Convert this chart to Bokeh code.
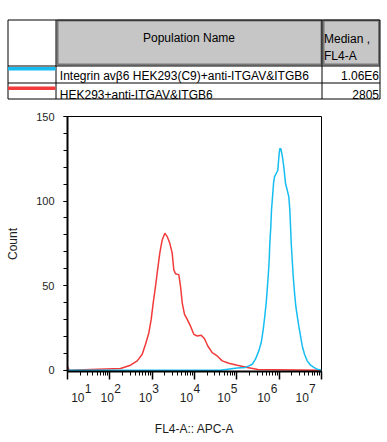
from bokeh.plotting import figure
from bokeh.layouts import column
from bokeh.models import Range1d, FixedTicker, CustomJSTickFormatter
from bokeh.embed import file_html
from bokeh.resources import INLINE
from bokeh.core.properties import value

FONT = "Liberation Sans"
CYAN = "#16BDF0"
RED = "#F23A3A"
TXT = "#1e1e1e"
W = 386

# ---------------- data ----------------
header_name = "Population Name"
header_stat = ["Median ,", "FL4-A"]
populations = ["Integrin avβ6 HEK293(C9)+anti-ITGAV&ITGB6", "HEK293+anti-ITGAV&ITGB6"]
medians = ["1.06E6", "2805"]
pop_colors = [CYAN, RED]

red_fl4 = [10, 11, 179, 308, 444, 582, 697, 834, 948, 1059, 1199, 1315, 1514,
           1726, 1991, 2265, 2612, 2972, 3243, 3556, 4256, 4677, 5129, 5808,
           6730, 8054, 9638, 11590, 14390, 17220, 20610, 26180, 34360, 45190,
           64710, 102100, 175800, 316000, 1e7]
red_count = [2, 0, 1, 2.9, 5.5, 9.4, 15.3, 22, 30, 39.8, 49.6, 57.5, 69.2,
             77, 81, 79, 75, 69.2, 59.4, 57, 56.5, 49.6, 39.8, 33,
             30, 26, 21.2, 20.2, 20.6, 18.6, 14.3, 10.4, 8.4, 5.5,
             4.1, 2.9, 1.6, 0.4, 0]

cyan_fl4 = [10, 41100, 102000, 160000, 192000, 231000, 276000, 330000, 377000,
            420000, 458000, 494000, 522000, 551000, 582000, 601000, 635000,
            659000, 697000, 736000, 776000, 851000, 929000, 982000, 1035000,
            1094000, 1180000, 1288000, 1413000, 1549000, 1690000, 1786000,
            1928000, 2032000, 2148000, 2307000, 2472000, 2673000, 2911000,
            3192000, 3508000, 3972000, 4603000, 5508000, 6592000, 7925000, 1e7]
cyan_count = [0, 0, 1.2, 1.6, 2.5, 3.5, 6.5, 11.4, 16.3,
              24, 32, 39.8, 47.6, 55.5, 65.3, 75, 84.9,
              94.7, 102.5, 110.4, 114.3, 116.3, 118.2, 126, 131,
              131, 127, 120.2, 110.4, 106.5, 102.5, 94.7,
              75, 65.3, 55.5, 45.7, 37.8, 32, 26,
              20.2, 14.3, 9.4, 5.5, 2.9, 1.6, 0.5, 0]

x_decades = [1, 2, 3, 4, 5, 6, 7]
y_major = [0, 50, 100, 150]
y_minor = list(range(0, 151, 10))

# ---------------- legend table ----------------
t = figure(width=W, height=108, x_range=Range1d(0, W), y_range=Range1d(108, 0),
           output_backend="svg", toolbar_location=None,
           x_axis_location=None, y_axis_location=None, min_border=0,
           outline_line_color=None, frame_align=False)
t.grid.visible = False

t.quad(left=[57, 323], right=[321, 378.5], top=[20, 20], bottom=[64, 64],
       fill_color="#C6C6C6", line_color="#767676", line_width=2)
t.quad(left=[7.5], right=[379.5], top=[19.5], bottom=[98.5],
       fill_color=None, line_color="black", line_width=1)
t.segment(x0=[55.5, 321.5], x1=[55.5, 321.5], y0=[19.5, 19.5], y1=[98.5, 98.5],
          line_color="black", line_width=1)
t.segment(x0=[7.5, 7.5], x1=[379.5, 379.5], y0=[65.5, 82.5], y1=[65.5, 82.5],
          line_color="black", line_width=1)
t.segment(x0=[7.5, 7.5], x1=[55, 55], y0=[68.3, 87.7], y1=[68.3, 87.7],
          line_color=pop_colors, line_width=3.5)

common = dict(text_font=value(FONT), text_font_size="12px", text_color="black",
              text_baseline="alphabetic")
t.text(x=[188.5], y=[37], text=[header_name], text_align="center", **common)
t.text(x=[323.5, 323.5], y=[38, 55.3], text=header_stat, text_align="left", **common)
t.text(x=[59.3, 59.3], y=[75, 94], text=populations, text_align="left", **common)
t.text(x=[378.5, 378.5], y=[75, 94], text=medians, text_align="right", **common)

# ---------------- histogram ----------------
p = figure(width=W, height=272, x_axis_type="log",
           x_range=Range1d(10, 1e7), y_range=Range1d(-0.8, 150),
           output_backend="svg", toolbar_location=None,
           min_border_left=67, min_border_right=65, min_border_top=8, min_border_bottom=9,
           outline_line_color="black", outline_line_width=1, frame_align=False)
p.grid.visible = False

p.line(red_fl4, red_count, line_color=RED, line_width=1.5)
p.line(cyan_fl4, cyan_count, line_color=CYAN, line_width=1.5)

xa = p.xaxis[0]
xa.ticker = FixedTicker(ticks=[10.0 ** n for n in x_decades],
                        minor_ticks=[k * 10.0 ** n for n in x_decades[:-1] for k in range(2, 10)])
xa.formatter = CustomJSTickFormatter(code="return ''")
xa.major_label_standoff = 0
xa.major_tick_out = 8
xa.major_tick_in = 0
xa.minor_tick_out = 4
xa.minor_tick_in = 0
xa.major_tick_line_width = 1.5
xa.minor_tick_line_width = 1
xa.axis_line_width = 2
xa.axis_line_color = "black"
xa.major_tick_line_color = "black"
xa.minor_tick_line_color = "black"

ya = p.yaxis[0]
ya.ticker = FixedTicker(ticks=y_major, minor_ticks=y_minor)
ya.major_tick_out = 4
ya.major_tick_in = 0
ya.minor_tick_out = 4
ya.minor_tick_in = 0
ya.axis_line_width = 2
ya.axis_line_color = "black"
ya.major_tick_line_color = "black"
ya.minor_tick_line_color = "black"
ya.major_label_standoff = 9
ya.major_label_text_font = FONT
ya.major_label_text_font_size = "11px"
ya.major_label_text_color = TXT
ya.axis_label = "Count"
ya.axis_label_text_font = FONT
ya.axis_label_text_font_size = "12px"
ya.axis_label_text_font_style = "normal"
ya.axis_label_text_color = TXT
ya.axis_label_standoff = 13

# ---------------- x tick-label strip + axis title ----------------
lab = figure(width=W, height=61, x_axis_type="log", x_range=p.x_range,
             y_range=Range1d(22, 0), output_backend="svg", toolbar_location=None,
             y_axis_location=None, min_border_left=67, min_border_right=65,
             min_border_top=0, min_border_bottom=39, outline_line_color=None,
             frame_align=False)
lab.grid.visible = False

decade_vals = [10.0 ** n for n in x_decades]
label_dx = [3.7, -9.3, -13.4, -14.7, -19.6, -22, -26]
exp_dx = [d + 13.6 for d in label_dx]
lab.text(x=decade_vals, y=[17.3] * len(x_decades), text=["10"] * len(x_decades),
         x_offset=label_dx, text_align="left", text_baseline="alphabetic",
         text_font=value(FONT), text_font_size="12px", text_color=TXT)
lab.text(x=decade_vals, y=[8.3] * len(x_decades), text=[str(n) for n in x_decades],
         x_offset=exp_dx, text_align="left", text_baseline="alphabetic",
         text_font=value(FONT), text_font_size="12px", text_color=TXT)

la = lab.xaxis[0]
la.ticker = FixedTicker(ticks=[])
la.axis_line_color = None
la.major_tick_line_color = None
la.minor_tick_line_color = None
la.major_tick_out = 0
la.minor_tick_out = 0
la.major_label_text_font_size = "0px"
la.axis_label = "FL4-A:: APC-A"
la.axis_label_text_font = FONT
la.axis_label_text_font_size = "12px"
la.axis_label_text_font_style = "normal"
la.axis_label_text_color = TXT
la.axis_label_standoff = 19

layout = column(t, p, lab)
open("out.html", "w").write(file_html(layout, INLINE))
